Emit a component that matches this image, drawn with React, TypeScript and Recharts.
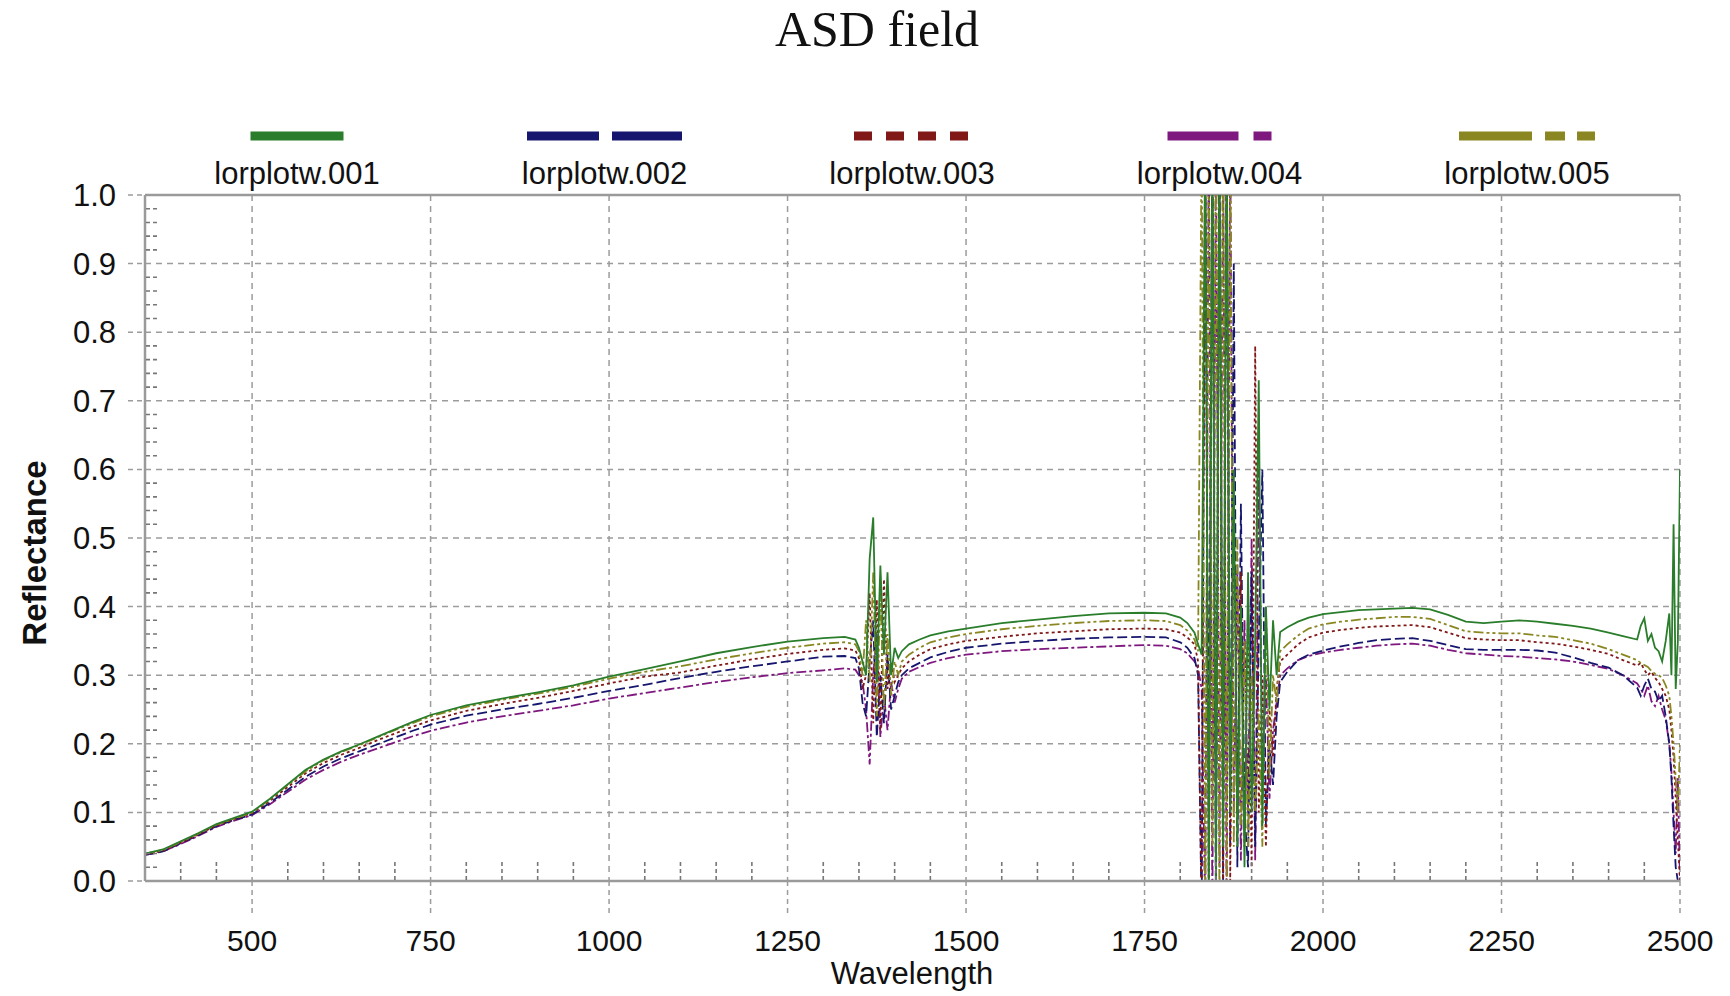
import React from 'react';
import { LineChart, Line, XAxis, YAxis, CartesianGrid, ReferenceLine } from 'recharts';

// ---------- data ----------
const wavelengths = [
  350, 375, 400, 425, 450, 475, 500, 525, 550, 575, 600, 625, 650, 675, 700, 725, 750,
  800, 850, 900, 950, 1000, 1050, 1100, 1150, 1200, 1250, 1300, 1330, 1345,
  1350, 1355, 1360, 1365, 1370, 1375, 1380, 1385, 1390, 1395, 1400, 1405, 1410,
  1420, 1435, 1450, 1475, 1500, 1550, 1600, 1650, 1700, 1750, 1780, 1800, 1810, 1820,
  1825, 1830, 1835, 1840, 1845, 1850, 1855, 1860, 1865, 1870, 1875, 1880, 1885, 1890, 1895, 1900, 1905, 1910, 1915, 1920, 1925, 1930, 1935,
  1940, 1950, 1965, 1980, 2000, 2025, 2050, 2075, 2100, 2125, 2150, 2175, 2200, 2225, 2250, 2275, 2300, 2325, 2350, 2375, 2400, 2420, 2440,
  2445, 2450, 2455, 2460, 2465, 2470, 2475, 2480, 2485, 2488, 2491, 2494, 2497, 2500,
];

const lorplotw001 = [
  0.040, 0.046, 0.058, 0.070, 0.083, 0.092, 0.101, 0.120, 0.141, 0.162, 0.177, 0.189, 0.199, 0.210, 0.221, 0.232, 0.242,
  0.256, 0.266, 0.275, 0.285, 0.298, 0.309, 0.320, 0.332, 0.341, 0.349, 0.354, 0.356, 0.352,
  0.340, 0.320, 0.300, 0.470, 0.530, 0.290, 0.460, 0.330, 0.450, 0.300, 0.340, 0.325, 0.335,
  0.345, 0.352, 0.358, 0.364, 0.368, 0.376, 0.381, 0.386, 0.390, 0.391, 0.390, 0.384, 0.376, 0.362,
  0.345, 0.330, 1.10, -0.05, 1.10, 0.00, 1.10, 0.05, 1.10, 0.10, 0.60, 0.05, 0.40, 0.02, 0.45, 0.10, 0.35, 0.73, 0.08, 0.40, 0.25, 0.38, 0.30,
  0.363, 0.370, 0.378, 0.384, 0.389, 0.392, 0.395, 0.396, 0.397, 0.398, 0.396, 0.388, 0.378, 0.376, 0.378, 0.380, 0.378, 0.375, 0.372, 0.368, 0.362, 0.357, 0.352,
  0.372, 0.383, 0.350, 0.360, 0.340, 0.335, 0.320, 0.350, 0.390, 0.300, 0.520, 0.280, 0.350, 0.600,
];

const lorplotw002 = [
  0.038, 0.043, 0.055, 0.067, 0.080, 0.089, 0.097, 0.114, 0.133, 0.152, 0.167, 0.179, 0.189, 0.199, 0.209, 0.219, 0.228,
  0.241, 0.250, 0.258, 0.267, 0.277, 0.286, 0.296, 0.305, 0.313, 0.320, 0.327, 0.328, 0.325,
  0.310, 0.260, 0.240, 0.320, 0.380, 0.210, 0.300, 0.230, 0.330, 0.250, 0.270, 0.290, 0.300,
  0.310, 0.318, 0.326, 0.334, 0.340, 0.346, 0.350, 0.353, 0.355, 0.356, 0.355, 0.348, 0.340, 0.325,
  0.300, -0.05, 1.10, 0.10, 1.10, -0.05, 1.10, 0.00, 1.10, 0.05, 0.90, 0.02, 0.55, 0.10, 0.02, 0.45, 0.05, 0.35, 0.60, 0.08, 0.20, 0.14, 0.24,
  0.290, 0.305, 0.322, 0.330, 0.336, 0.342, 0.347, 0.351, 0.353, 0.354, 0.350, 0.344, 0.338, 0.337, 0.337, 0.337, 0.336, 0.333, 0.326, 0.318, 0.311, 0.300, 0.282,
  0.270, 0.285, 0.295, 0.280, 0.276, 0.262, 0.270, 0.240, 0.200, 0.150, 0.080, 0.020, 0.000, 0.000,
];

const lorplotw003 = [
  0.039, 0.044, 0.056, 0.068, 0.081, 0.090, 0.099, 0.117, 0.137, 0.157, 0.172, 0.184, 0.194, 0.205, 0.215, 0.225, 0.234,
  0.248, 0.258, 0.267, 0.277, 0.288, 0.298, 0.304, 0.314, 0.323, 0.331, 0.337, 0.339, 0.336,
  0.325, 0.280, 0.300, 0.420, 0.230, 0.410, 0.220, 0.440, 0.280, 0.320, 0.290, 0.300, 0.310,
  0.320, 0.330, 0.338, 0.345, 0.350, 0.356, 0.361, 0.364, 0.367, 0.368, 0.367, 0.362, 0.355, 0.345,
  0.320, -0.05, 1.10, -0.05, 1.10, 0.05, 1.10, -0.05, 1.10, 0.00, 0.55, 0.10, 0.45, 0.05, 0.40, 0.02, 0.78, 0.10, 0.30, 0.05, 0.25, 0.18, 0.28,
  0.320, 0.330, 0.345, 0.355, 0.362, 0.366, 0.369, 0.371, 0.372, 0.373, 0.370, 0.362, 0.354, 0.352, 0.351, 0.351, 0.348, 0.346, 0.342, 0.337, 0.331, 0.322, 0.314,
  0.318, 0.308, 0.300, 0.305, 0.296, 0.290, 0.280, 0.270, 0.250, 0.220, 0.180, 0.120, 0.060, 0.000,
];

const lorplotw004 = [
  0.038, 0.043, 0.054, 0.066, 0.079, 0.088, 0.096, 0.112, 0.130, 0.148, 0.162, 0.174, 0.184, 0.193, 0.202, 0.211, 0.219,
  0.231, 0.240, 0.248, 0.256, 0.266, 0.274, 0.282, 0.290, 0.297, 0.303, 0.307, 0.310, 0.308,
  0.300, 0.290, 0.250, 0.170, 0.300, 0.360, 0.210, 0.270, 0.220, 0.290, 0.260, 0.280, 0.295,
  0.305, 0.312, 0.318, 0.325, 0.330, 0.335, 0.338, 0.340, 0.342, 0.344, 0.343, 0.338, 0.332, 0.320,
  0.310, 0.280, -0.05, 1.10, -0.05, 1.10, 0.02, 1.10, -0.05, 1.10, 0.10, 0.45, 0.03, 0.38, 0.10, 0.50, 0.03, 0.60, 0.15, 0.30, 0.12, 0.22, 0.26,
  0.300, 0.310, 0.322, 0.328, 0.333, 0.337, 0.340, 0.343, 0.345, 0.346, 0.343, 0.337, 0.332, 0.330, 0.328, 0.327, 0.325, 0.323, 0.320, 0.315, 0.309, 0.300, 0.288,
  0.280, 0.270, 0.285, 0.262, 0.255, 0.270, 0.250, 0.235, 0.200, 0.160, 0.100, 0.040, 0.150, 0.000,
];

const lorplotw005 = [
  0.040, 0.045, 0.057, 0.069, 0.082, 0.091, 0.100, 0.119, 0.140, 0.160, 0.176, 0.188, 0.198, 0.209, 0.220, 0.230, 0.240,
  0.254, 0.264, 0.273, 0.283, 0.295, 0.305, 0.313, 0.323, 0.332, 0.340, 0.346, 0.348, 0.345,
  0.335, 0.300, 0.380, 0.290, 0.450, 0.240, 0.420, 0.250, 0.360, 0.270, 0.320, 0.300, 0.320,
  0.330, 0.340, 0.348, 0.355, 0.360, 0.367, 0.372, 0.376, 0.379, 0.380, 0.379, 0.373, 0.365, 0.352,
  0.335, 1.10, -0.05, 1.10, 0.05, 1.10, -0.05, 1.10, 0.00, 1.10, 0.05, 0.50, 0.08, 0.35, 0.05, 0.30, 0.10, 0.25, 0.05, 0.40, 0.15, 0.30, 0.26,
  0.335, 0.345, 0.358, 0.368, 0.374, 0.378, 0.381, 0.383, 0.385, 0.385, 0.382, 0.373, 0.364, 0.362, 0.361, 0.361, 0.358, 0.356, 0.351, 0.346, 0.338, 0.330, 0.322,
  0.318, 0.315, 0.312, 0.306, 0.302, 0.300, 0.296, 0.285, 0.270, 0.240, 0.200, 0.150, 0.100, 0.200,
];

const seriesNames = ['lorplotw.001', 'lorplotw.002', 'lorplotw.003', 'lorplotw.004', 'lorplotw.005'];

const xTicks = [
  400, 450, 500, 550, 600, 650, 700, 750, 800, 850, 900, 950, 1000, 1050, 1100, 1150, 1200, 1250,
  1300, 1350, 1400, 1450, 1500, 1550, 1600, 1650, 1700, 1750, 1800, 1850, 1900, 1950, 2000, 2050,
  2100, 2150, 2200, 2250, 2300, 2350, 2400, 2450, 2500,
];
const xMajor = [500, 750, 1000, 1250, 1500, 1750, 2000, 2250, 2500];
const yTicks = [
  0, 0.02, 0.04, 0.06, 0.08, 0.1, 0.12, 0.14, 0.16, 0.18, 0.2, 0.22, 0.24, 0.26, 0.28, 0.3,
  0.32, 0.34, 0.36, 0.38, 0.4, 0.42, 0.44, 0.46, 0.48, 0.5, 0.52, 0.54, 0.56, 0.58, 0.6,
  0.62, 0.64, 0.66, 0.68, 0.7, 0.72, 0.74, 0.76, 0.78, 0.8, 0.82, 0.84, 0.86, 0.88, 0.9,
  0.92, 0.94, 0.96, 0.98, 1.0,
];
const yMajor = [0, 0.1, 0.2, 0.3, 0.4, 0.5, 0.6, 0.7, 0.8, 0.9, 1.0];

// ---------- styles ----------
const seriesStyle = [
  { key: 's1', color: '#2a7d2a', dash: undefined, legendDash: undefined, legendWidth: 93 },
  { key: 's2', color: '#16166e', dash: '10 4', legendDash: '72 13', legendWidth: 155 },
  { key: 's3', color: '#801818', dash: '3 3', legendDash: '18 14', legendWidth: 116 },
  { key: 's4', color: '#7e187e', dash: '10 3 3 3', legendDash: '71 15 18 15', legendWidth: 104 },
  { key: 's5', color: '#8a8722', dash: '10 3 3 3 3 3', legendDash: '73 13 20 12 20 12', legendWidth: 136 },
];
const seriesValues = [lorplotw001, lorplotw002, lorplotw003, lorplotw004, lorplotw005];

const rows = wavelengths.map((wl, i) => {
  const r: any = { wl };
  seriesStyle.forEach((s, k) => {
    r[s.key] = seriesValues[k][i];
  });
  return r;
});

const SANS = 'Liberation Sans, Arial, Helvetica, sans-serif';
const SERIF = 'Liberation Serif, Times New Roman, serif';
const GRID = '#9c9c9c';

const isYMajor = (v: number) => yMajor.some((m) => Math.abs(m - v) < 1e-9);

const YTick = (props: any) => {
  const { x, y, payload } = props;
  const v = payload.value as number;
  if (!isYMajor(v)) {
    return <line x1={x + 1} x2={x + 14} y1={y} y2={y} stroke="#777" strokeWidth={1.6} strokeDasharray="4 3" />;
  }
  return (
    <g>
      <line x1={x - 17} x2={x} y1={y} y2={y} stroke={GRID} strokeWidth={1.5} strokeDasharray="5 4" />
      <text x={x - 29} y={y + 11} textAnchor="end" fontFamily={SANS} fontSize={31} fill="#111">
        {v.toFixed(1)}
      </text>
    </g>
  );
};

const XTick = (props: any) => {
  const { x, y, payload } = props;
  const v = payload.value as number;
  if (!xMajor.includes(v)) {
    return <line x1={x} x2={x} y1={y - 1} y2={y - 22} stroke="#777" strokeWidth={1.6} strokeDasharray="4 3" />;
  }
  return (
    <g>
      <line x1={x} x2={x} y1={y} y2={y + 34} stroke={GRID} strokeWidth={1.5} strokeDasharray="5 4" />
      <text x={x} y={y + 70} textAnchor="middle" fontFamily={SANS} fontSize={30} fill="#111">
        {v}
      </text>
    </g>
  );
};

const drawOrder = [3, 1, 2, 4, 0];

export default function App() {
  return (
    <div style={{ position: 'absolute', left: 0, top: 0, width: 1730, height: 996, background: '#fff' }}>
      <div style={{ position: 'absolute', left: 0, top: 0 }}>
        <LineChart width={1730} height={996} data={rows} margin={{ top: 195, right: 50, bottom: 85, left: 85 }}>
          <CartesianGrid
            stroke={GRID}
            strokeWidth={1.5}
            strokeDasharray="6 5"
            horizontalValues={[0.1, 0.2, 0.3, 0.4, 0.5, 0.6, 0.7, 0.8, 0.9]}
            verticalValues={xMajor}
          />
          <XAxis
            dataKey="wl"
            type="number"
            domain={[350, 2500]}
            allowDataOverflow
            ticks={xTicks}
            interval={0}
            tickLine={false}
            tickSize={0}
            tickMargin={0}
            height={30}
            axisLine={{ stroke: '#9a9a9a', strokeWidth: 2.5 }}
            tick={XTick}
          />
          <YAxis
            type="number"
            domain={[0, 1]}
            allowDataOverflow
            ticks={yTicks}
            interval={0}
            tickLine={false}
            tickSize={0}
            tickMargin={0}
            width={60}
            axisLine={{ stroke: '#9a9a9a', strokeWidth: 2.5 }}
            tick={YTick}
          />
          <ReferenceLine y={1} stroke="#9a9a9a" strokeWidth={2.5} />
          {drawOrder.map((k) => (
            <Line
              key={seriesStyle[k].key}
              dataKey={seriesStyle[k].key}
              name={seriesNames[k]}
              type="linear"
              stroke={seriesStyle[k].color}
              strokeWidth={1.8}
              strokeDasharray={seriesStyle[k].dash}
              dot={false}
              activeDot={false}
              isAnimationActive={false}
            />
          ))}
        </LineChart>
      </div>
      <svg width={1730} height={996} style={{ position: 'absolute', left: 0, top: 0, pointerEvents: 'none' }}>
        <text x={877} y={46} textAnchor="middle" fontFamily={SERIF} fontSize={50} fill="#111">
          ASD field
        </text>
        {seriesStyle.map((s, i) => {
          const cx = 297 + i * 307.5;
          return (
            <g key={s.key}>
              <line
                x1={cx - s.legendWidth / 2}
                x2={cx + s.legendWidth / 2}
                y1={136}
                y2={136}
                stroke={s.color}
                strokeWidth={9}
                strokeDasharray={s.legendDash}
              />
              <text x={cx} y={184} textAnchor="middle" fontFamily={SANS} fontSize={31} fill="#111">
                {seriesNames[i]}
              </text>
            </g>
          );
        })}
        <text
          x={46}
          y={553}
          transform="rotate(-90 46 553)"
          textAnchor="middle"
          fontFamily={SANS}
          fontSize={33}
          fontWeight="bold"
          fill="#111"
        >
          Reflectance
        </text>
        <text x={912} y={984} textAnchor="middle" fontFamily={SANS} fontSize={31} fill="#111">
          Wavelength
        </text>
      </svg>
    </div>
  );
}
